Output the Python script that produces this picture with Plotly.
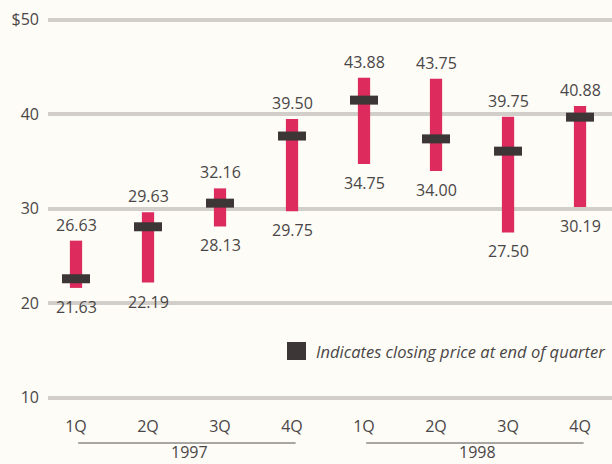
import plotly.graph_objects as go

quarters = ["1Q", "2Q", "3Q", "4Q", "1Q ", "2Q ", "3Q ", "4Q "]
tick_text = ["1Q", "2Q", "3Q", "4Q", "1Q", "2Q", "3Q", "4Q"]
high = [26.63, 29.63, 32.16, 39.50, 43.88, 43.75, 39.75, 40.88]
low = [21.63, 22.19, 28.13, 29.75, 34.75, 34.00, 27.50, 30.19]
close = [22.6, 28.1, 30.6, 37.7, 41.5, 37.4, 36.1, 39.7]
years = ["1997", "1998"]
y_ticks = [10, 20, 30, 40, 50]
y_tick_text = ["10", "20", "30", "40", "$50"]

BAR = "#dc2b5c"
MARK = "#3d3636"
TXT = "#4a4646"
BG = "#fdfcf7"
FONT = "Open Sans"
FS = 16

fig = go.Figure()
fig.add_trace(go.Bar(
    x=quarters, y=[h - l for h, l in zip(high, low)], base=low,
    width=0.17, marker=dict(color=BAR, line=dict(width=0)), hoverinfo="skip",
))
fig.add_trace(go.Scatter(
    x=quarters, y=close, mode="markers",
    marker=dict(symbol="line-ew", size=20, line=dict(width=9, color=MARK), color=MARK),
    hoverinfo="skip",
))

for q, h, l in zip(quarters, high, low):
    fig.add_annotation(x=q, y=h, text=f"{h:.2f}", showarrow=False,
                       xanchor="center", yanchor="bottom", yshift=3,
                       font=dict(family=FONT, size=FS, color=TXT))
    fig.add_annotation(x=q, y=l, text=f"{l:.2f}", showarrow=False,
                       xanchor="center", yanchor="top", yshift=-6,
                       font=dict(family=FONT, size=FS, color=TXT))

# legend square and text
fig.add_shape(type="rect", xref="paper", yref="paper",
              x0=(287 - 48) / 564, x1=(306 - 48) / 564,
              y0=(412 - 360) / 406, y1=(412 - 342) / 406,
              fillcolor=MARK, line=dict(width=0))
fig.add_annotation(xref="paper", yref="paper", x=(314 - 48) / 564, y=(412 - 351) / 406,
                   xanchor="left", yanchor="middle", showarrow=False,
                   text="<i>Indicates closing price at end of quarter</i>",
                   font=dict(family=FONT, size=16.5, color=TXT))

# year group lines and labels
for i, yr in enumerate(years):
    fig.add_shape(type="line", xref="x", yref="paper", x0=i * 4 + 0.03, x1=i * 4 + 3.05,
                  y0=(412 - 443) / 406, y1=(412 - 443) / 406,
                  line=dict(color="#555050", width=1))
    fig.add_annotation(xref="x", yref="paper", x=i * 4 + 1.58, y=(412 - 452) / 406,
                       text=yr, showarrow=False, xanchor="center", yanchor="middle",
                       font=dict(family=FONT, size=FS, color=TXT), borderpad=0)

fig.update_layout(
    width=612, height=464,
    margin=dict(l=48, r=0, t=6, b=52),
    paper_bgcolor=BG, plot_bgcolor=BG,
    showlegend=False,
    xaxis=dict(type="category", categoryorder="array", categoryarray=quarters,
               tickvals=quarters, ticktext=tick_text,
               range=[-0.389, 7.444], showgrid=False, zeroline=False, showline=False,
               ticks="", ticklabelstandoff=3,
               tickfont=dict(family=FONT, size=FS, color=TXT)),
    yaxis=dict(range=[8.5, 51.46], tickvals=y_ticks, ticktext=y_tick_text,
               showgrid=True, gridcolor="#d2cec9", gridwidth=4, zeroline=False,
               showline=False, ticks="", ticklabelstandoff=8,
               tickfont=dict(family=FONT, size=FS, color=TXT)),
)

fig.write_html("out.html")
